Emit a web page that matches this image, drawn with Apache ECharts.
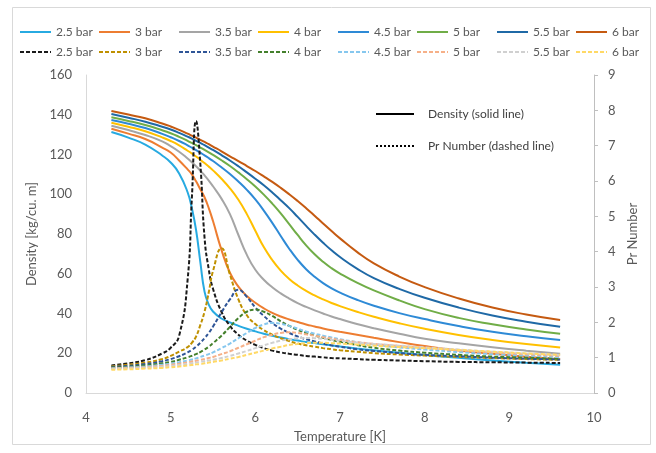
<!DOCTYPE html>
<html>
<head>
<meta charset="utf-8">
<script src="https://cdn.jsdelivr.net/npm/echarts@6/dist/echarts.min.js"></script>
<style>html,body{margin:0;padding:0;background:#fff}#c{width:656px;height:453px}</style>
</head>
<body>
<div id="c"></div>
<script>
const temps = [4.3, 4.5, 4.7, 4.9, 5.0, 5.1, 5.2, 5.25, 5.3, 5.35, 5.4, 5.45, 5.5, 5.6, 5.7, 5.8, 5.9, 6.0, 6.1, 6.2, 6.3, 6.4, 6.5, 6.6, 6.7, 6.8, 6.9, 7.0, 7.2, 7.4, 7.7, 8.0, 8.4, 8.8, 9.2, 9.6];
const pressures = ['2.5 bar', '3 bar', '3.5 bar', '4 bar', '4.5 bar', '5 bar', '5.5 bar', '6 bar'];

// Density [kg/cu. m]
const density25 = [131.3,128.5,125.0,119.5,116.0,110.5,101.0,93.0,82.0,66.0,51.0,44.5,41.0,37.5,35.5,33.8,32.3,31.0,29.8,28.8,27.9,27.1,26.4,25.7,25.1,24.5,23.9,23.4,22.4,21.5,20.2,19.1,17.7,16.4,15.2,14.2];
const density30 = [133.0,130.5,127.8,123.5,121.0,117.0,112.5,110.0,106.5,102.5,98.5,93.0,86.5,72.0,60.5,53.5,48.8,45.4,42.6,40.3,38.5,37.0,35.7,34.5,33.5,32.5,31.6,30.8,29.3,27.8,25.6,23.6,21.4,19.7,18.3,17.0];
const density35 = [134.5,132.3,129.8,126.6,124.2,121.4,118.0,116.1,114.1,111.9,109.5,106.9,104.0,97.8,90.0,79.5,69.5,62.0,57.0,53.2,50.1,47.5,45.2,43.3,41.6,40.0,38.5,37.2,34.7,32.6,29.8,27.3,25.0,23.0,21.3,19.8];
const density40 = [136.0,134.0,131.7,128.6,126.8,124.6,121.9,120.5,119.0,117.4,115.7,113.9,112.0,107.8,103.0,97.2,90.0,81.6,73.4,66.9,61.6,57.4,54.1,51.4,49.1,47.1,45.3,43.7,40.9,38.4,35.1,32.3,29.2,26.7,24.6,22.9];
const density45 = [137.4,135.5,133.3,130.4,128.7,126.8,124.6,123.4,122.2,120.9,119.6,118.2,116.7,113.6,110.2,106.4,102.2,97.4,91.8,85.6,79.0,72.6,67.0,62.3,58.5,55.3,52.7,50.5,46.9,43.9,40.2,37.2,33.7,30.8,28.6,26.7];
const density50 = [138.7,136.9,134.8,132.2,130.7,128.9,126.9,125.8,124.7,123.5,122.3,121.1,119.8,117.1,114.2,111.0,107.6,103.9,99.8,95.3,90.4,85.0,79.5,74.3,69.8,66.0,62.8,60.1,55.5,51.6,46.6,42.2,37.8,34.6,32.0,29.8];
const density55 = [140.4,138.5,136.5,134.0,132.6,130.9,129.0,128.0,126.9,125.8,124.7,123.5,122.3,119.7,117.0,114.1,111.0,107.8,104.5,100.9,97.0,93.0,88.6,84.1,79.7,75.6,71.8,68.4,62.6,57.8,52.4,47.9,43.0,39.0,35.9,33.3];
const density60 = [141.9,140.1,138.2,135.6,134.1,132.4,130.5,129.5,128.5,127.4,126.3,125.2,124.0,121.6,119.1,116.7,114.2,111.7,109.0,106.2,103.2,100.0,96.6,93.0,89.2,85.3,81.5,77.8,71.0,65.2,58.6,53.3,47.6,43.0,39.5,36.7];

// Pr Number
const pr25 = [0.78,0.84,0.93,1.12,1.28,1.62,3.2,5.5,7.7,6.5,4.4,3.5,2.95,2.3,1.9,1.65,1.48,1.36,1.27,1.2,1.15,1.11,1.08,1.05,1.03,1.01,0.99,0.98,0.96,0.94,0.92,0.9,0.88,0.87,0.86,0.85];
const pr30 = [0.76,0.8,0.86,0.96,1.05,1.17,1.3,1.42,1.6,1.92,2.3,2.85,3.45,4.1,3.35,2.65,2.2,1.95,1.78,1.65,1.55,1.47,1.4,1.35,1.31,1.27,1.24,1.21,1.17,1.13,1.09,1.06,1.02,0.99,0.96,0.94];
const pr35 = [0.74,0.77,0.82,0.9,0.96,1.04,1.15,1.22,1.31,1.42,1.55,1.7,1.88,2.28,2.65,2.92,2.72,2.42,2.18,1.98,1.82,1.7,1.6,1.52,1.46,1.4,1.35,1.31,1.24,1.19,1.13,1.08,1.04,1.0,0.97,0.95];
const pr40 = [0.72,0.74,0.78,0.84,0.88,0.94,1.01,1.05,1.1,1.16,1.23,1.31,1.41,1.62,1.87,2.12,2.3,2.36,2.3,2.18,2.03,1.9,1.79,1.7,1.63,1.56,1.5,1.45,1.36,1.28,1.2,1.14,1.08,1.03,1.0,0.97];
const pr45 = [0.7,0.72,0.75,0.8,0.83,0.87,0.92,0.95,0.98,1.02,1.06,1.1,1.15,1.27,1.4,1.55,1.7,1.84,1.94,1.98,1.96,1.9,1.82,1.74,1.68,1.62,1.57,1.52,1.44,1.37,1.29,1.23,1.16,1.1,1.06,1.02];
const pr50 = [0.69,0.71,0.73,0.77,0.8,0.83,0.87,0.89,0.91,0.94,0.96,0.99,1.02,1.1,1.18,1.28,1.38,1.48,1.58,1.65,1.7,1.72,1.7,1.66,1.62,1.58,1.54,1.5,1.44,1.39,1.33,1.28,1.21,1.15,1.1,1.05];
const pr55 = [0.68,0.69,0.71,0.74,0.76,0.79,0.82,0.84,0.86,0.88,0.9,0.92,0.94,0.99,1.05,1.12,1.19,1.27,1.35,1.42,1.48,1.52,1.55,1.56,1.55,1.53,1.51,1.48,1.43,1.39,1.34,1.29,1.23,1.17,1.12,1.07];
const pr60 = [0.66,0.67,0.69,0.71,0.73,0.75,0.78,0.79,0.81,0.82,0.84,0.86,0.88,0.92,0.97,1.02,1.08,1.14,1.2,1.26,1.31,1.36,1.39,1.41,1.42,1.42,1.41,1.4,1.37,1.34,1.3,1.27,1.22,1.17,1.12,1.08];

const xTicks = [4, 5, 6, 7, 8, 9, 10];
const densityTicks = [0, 20, 40, 60, 80, 100, 120, 140, 160];
const prTicks = [0, 1, 2, 3, 4, 5, 6, 7, 8, 9];

const densitySets = [density25, density30, density35, density40, density45, density50, density55, density60];
const prSets = [pr25, pr30, pr35, pr40, pr45, pr50, pr55, pr60];
const solidColors = ['#27aae1', '#ed7d31', '#a5a5a5', '#ffc000', '#2e8ad6', '#70ad47', '#1f69a6', '#c55a11'];
const dashColors = ['#1a1a1a', '#bf9000', '#2f5597', '#44802c', '#86c7ee', '#f6b088', '#d0d0d0', '#ffd966'];

const FONT = 'Lato, "Open Sans", sans-serif';
const zip = arr => temps.map((t, i) => [t, arr[i]]);

const series = [];
pressures.forEach((p, i) => {
  series.push({
    name: 'D|' + p, type: 'line', yAxisIndex: 0, data: zip(densitySets[i]),
    symbol: 'none', smooth: 0.5, color: solidColors[i],
    lineStyle: { width: 2, color: solidColors[i] }, z: 2
  });
});
pressures.forEach((p, i) => {
  series.push({
    name: 'P|' + p, type: 'line', yAxisIndex: 1, data: zip(prSets[i]),
    symbol: 'none', smooth: 0.5, color: dashColors[i],
    lineStyle: { width: 2, color: dashColors[i], type: [4, 2] }, z: 3
  });
});
series.push({ name: 'Density (solid line)', type: 'line', data: [], symbol: 'none', color: '#000',
  lineStyle: { width: 2, color: '#000' } });
series.push({ name: 'Pr Number (dashed line)', type: 'line', data: [], symbol: 'none', color: '#000',
  lineStyle: { width: 2.5, color: '#000', type: [2, 2] } });

const colLeft = [19, 98, 178, 257, 337, 416, 496, 575];
const legends = pressures.map((p, i) => ({
  orient: 'vertical', left: colLeft[i], top: 26, itemWidth: 31, itemHeight: 14, itemGap: 8,
  padding: 0, data: ['D|' + p, 'P|' + p], formatter: n => n.split('|')[1],
  itemStyle: { opacity: 0 },
  textStyle: { fontSize: 12, color: '#595959', fontFamily: FONT }, selectedMode: false
}));
legends.push({
  orient: 'vertical', left: 375, top: 108, itemWidth: 38, itemHeight: 14, itemGap: 20, padding: 0,
  data: ['Density (solid line)', 'Pr Number (dashed line)'], selectedMode: false,
  itemStyle: { opacity: 0 },
  textStyle: { fontSize: 12, color: '#404040', fontFamily: FONT, padding: [0, 0, 0, 9] }
});

const axisLbl = { fontSize: 13, color: '#595959', fontFamily: FONT };
const option = {
  animation: false,
  backgroundColor: '#fff',
  textStyle: { fontFamily: FONT },
  graphic: [{ type: 'rect', shape: { x: 12.5, y: 7.5, width: 638, height: 437 },
    style: { fill: 'none', stroke: '#d9d9d9', lineWidth: 1 }, silent: true }],
  legend: legends,
  grid: { left: 86, right: 62, top: 75, bottom: 60 },
  xAxis: {
    type: 'value', min: xTicks[0], max: xTicks[xTicks.length - 1], interval: 1,
    name: 'Temperature [K]', nameLocation: 'middle', nameGap: 37,
    nameTextStyle: { fontSize: 13, color: '#595959', fontFamily: FONT },
    axisLine: { show: true, lineStyle: { color: '#d9d9d9', width: 1 } },
    axisTick: { show: false }, splitLine: { show: false },
    axisLabel: Object.assign({ margin: 18 }, axisLbl)
  },
  yAxis: [{
    type: 'value', min: densityTicks[0], max: densityTicks[densityTicks.length - 1], interval: 20,
    name: 'Density [kg/cu. m]', nameLocation: 'middle', nameGap: 46,
    nameTextStyle: { fontSize: 13, color: '#595959', fontFamily: FONT },
    axisLine: { show: true, lineStyle: { color: '#d9d9d9', width: 1 } },
    axisTick: { show: false }, splitLine: { show: false },
    axisLabel: Object.assign({ margin: 14 }, axisLbl)
  }, {
    type: 'value', position: 'right', min: prTicks[0], max: prTicks[prTicks.length - 1], interval: 1,
    name: 'Pr Number', nameLocation: 'middle', nameGap: 32,
    nameTextStyle: { fontSize: 13, color: '#595959', fontFamily: FONT },
    axisLine: { show: true, lineStyle: { color: '#bfbfbf', width: 1 } },
    axisTick: { show: true, inside: false, length: 4, lineStyle: { color: '#bfbfbf' } },
    splitLine: { show: false },
    axisLabel: Object.assign({ margin: 14 }, axisLbl)
  }],
  series: series
};
echarts.init(document.getElementById('c'), null, { renderer: 'canvas' }).setOption(option);
</script>
</body>
</html>
